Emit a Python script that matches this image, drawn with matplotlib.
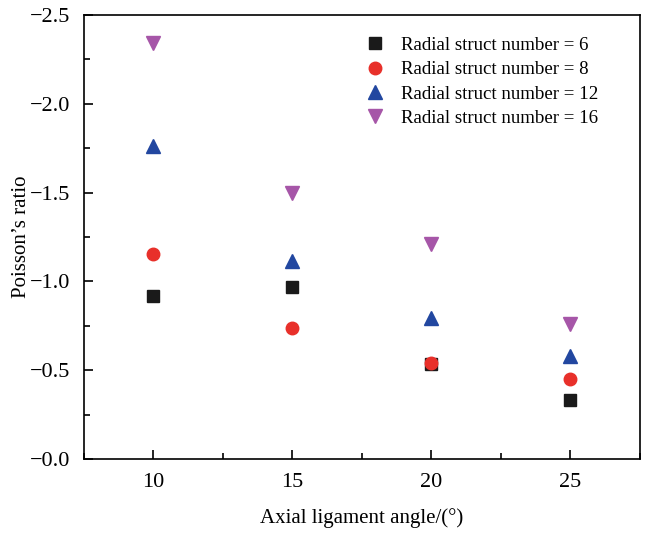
import matplotlib
matplotlib.use("Agg")
import matplotlib.pyplot as plt
from matplotlib.ticker import FixedLocator, MultipleLocator, FuncFormatter

plt.rcParams['font.family'] = ['Liberation Serif', 'DejaVu Serif']

angles = [10, 15, 20, 25]
n6 = [-0.92, -0.97, -0.535, -0.33]
n8 = [-1.155, -0.735, -0.54, -0.45]
n12 = [-1.765, -1.115, -0.795, -0.58]
n16 = [-2.34, -1.50, -1.21, -0.76]
labels = ["Radial struct number = 6", "Radial struct number = 8",
          "Radial struct number = 12", "Radial struct number = 16"]

fig = plt.figure(figsize=(6.45, 5.38), dpi=100)
ax = fig.add_axes([0.130, 0.147, 0.862, 0.825])

ax.plot(angles, n6, 's', color='#1a1a1a', ms=8.5, ls='none', label=labels[0])
ax.plot(angles, n8, 'o', color='#e8302a', ms=9, ls='none', label=labels[1])
ax.plot(angles, n12, '^', color='#2247a0', ms=9.5, ls='none', label=labels[2])
ax.plot(angles, n16, 'v', color='#a656a8', ms=9.5, ls='none', label=labels[3])

ax.set_xlim(7.5, 27.5)
ax.set_ylim(0, -2.5)
ax.xaxis.set_major_locator(FixedLocator(angles))
ax.xaxis.set_minor_locator(MultipleLocator(2.5))
ax.yaxis.set_major_locator(MultipleLocator(0.5))
ax.yaxis.set_minor_locator(MultipleLocator(0.25))
ax.yaxis.set_major_formatter(FuncFormatter(lambda v, p: "\u2212%.1f" % abs(v)))
ax.tick_params(which='both', direction='in', top=False, right=False, labelsize=16, width=1.2)
ax.tick_params(which='major', length=6.5)
ax.tick_params(which='minor', length=4)
ax.tick_params(axis='x', pad=10)
ax.tick_params(axis='y', pad=10)
for s in ax.spines.values():
    s.set_linewidth(1.2)

ax.set_xlabel("Axial ligament angle/(°)", fontsize=15, labelpad=12)
ax.set_ylabel("Poisson’s ratio", fontsize=15)
ax.yaxis.set_label_coords(-0.095, 0.5)

ax.legend(loc='upper right', frameon=False, fontsize=13.6, handletextpad=0.35,
          labelspacing=0.38, borderaxespad=0.5, bbox_to_anchor=(0.955, 0.99))

fig.savefig("out.png", dpi=100)
